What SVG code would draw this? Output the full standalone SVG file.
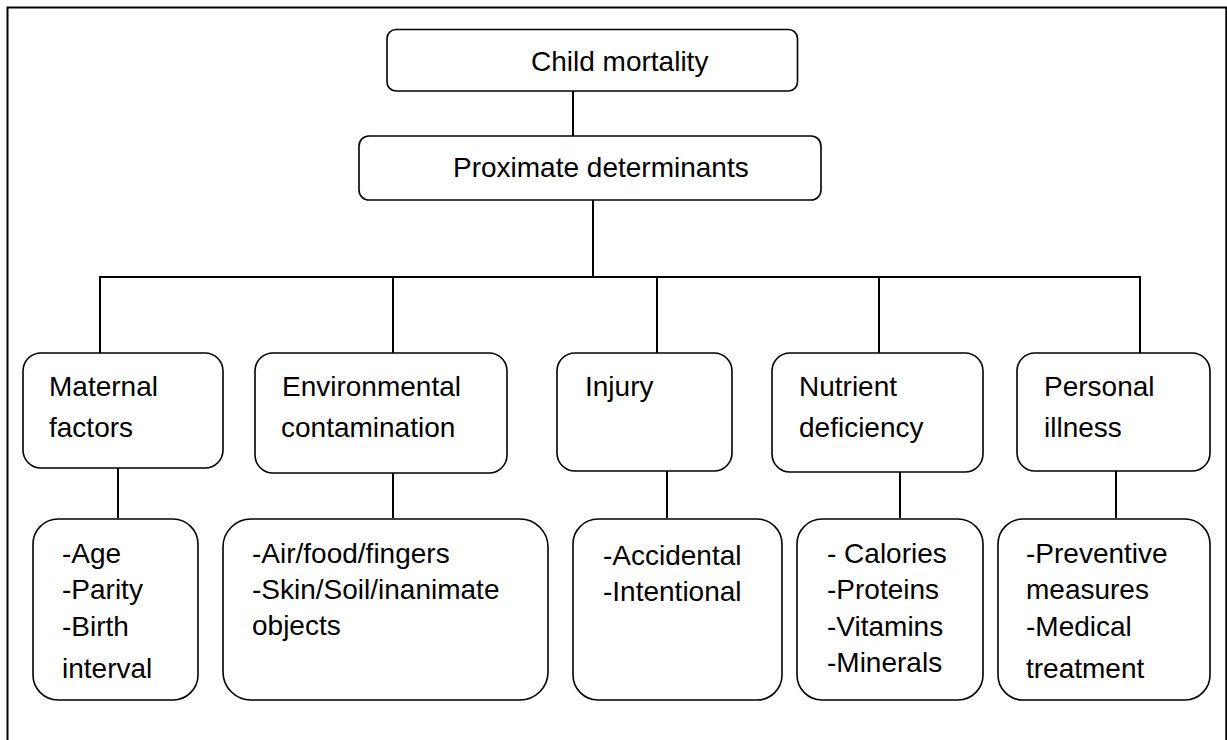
<svg xmlns="http://www.w3.org/2000/svg" width="1227" height="740" viewBox="0 0 1227 740">
<style>
.box{fill:#fff;stroke:#000;stroke-width:1.6}
.t{font-family:"Liberation Sans",Arial,sans-serif;font-size:28px;fill:#000}
.c{stroke:#000;stroke-width:2;fill:none}
</style>
<rect width="1227" height="740" fill="#fff"/>
<path d="M7.5,750 V7.5 H1226.3 V750" fill="none" stroke="#000" stroke-width="2"/>
<g id="connectors">
<line class="c" x1="573" y1="91" x2="573" y2="136" stroke-width="1.6"/>
<line class="c" x1="593" y1="200" x2="593" y2="277" stroke-width="2.6"/>
<polyline class="c" points="100,353 100,277 1140,277 1140,353"/>
<line class="c" x1="393" y1="277" x2="393" y2="353"/>
<line class="c" x1="657" y1="277" x2="657" y2="353"/>
<line class="c" x1="879" y1="277" x2="879" y2="353"/>
<line class="c" x1="118" y1="468" x2="118" y2="518"/>
<line class="c" x1="393" y1="473" x2="393" y2="518"/>
<line class="c" x1="667" y1="471" x2="667" y2="518"/>
<line class="c" x1="900" y1="472" x2="900" y2="518"/>
<line class="c" x1="1116" y1="471" x2="1116" y2="518"/>
</g>
<g id="child-mortality">
<rect class="box" x="387" y="29.5" width="410.5" height="61.5" rx="9"/>
<text class="t" x="531" y="71">Child mortality</text>
</g>
<g id="proximate">
<rect class="box" x="359" y="136" width="462" height="64" rx="10"/>
<text class="t" x="453" y="177">Proximate determinants</text>
</g>
<g id="maternal">
<rect class="box" x="23" y="353" width="200" height="115" rx="18"/>
<text class="t" x="49" y="396">Maternal</text>
<text class="t" x="49" y="437">factors</text>
</g>
<g id="environmental">
<rect class="box" x="255" y="353" width="252" height="120" rx="18"/>
<text class="t" x="282" y="396">Environmental</text>
<text class="t" x="281" y="437">contamination</text>
</g>
<g id="injury">
<rect class="box" x="557" y="353" width="175" height="118" rx="18"/>
<text class="t" x="585" y="396">Injury</text>
</g>
<g id="nutrient">
<rect class="box" x="772" y="353" width="211" height="119" rx="18"/>
<text class="t" x="799" y="396">Nutrient</text>
<text class="t" x="799" y="437">deficiency</text>
</g>
<g id="personal">
<rect class="box" x="1017" y="353" width="193" height="118" rx="18"/>
<text class="t" x="1044" y="396">Personal</text>
<text class="t" x="1044" y="437">illness</text>
</g>
<g id="maternal-sub">
<rect class="box" x="33" y="519" width="165" height="181" rx="25"/>
<text class="t" x="62" y="563">-Age</text>
<text class="t" x="62" y="599">-Parity</text>
<text class="t" x="62" y="636">-Birth</text>
<text class="t" x="62" y="678">interval</text>
</g>
<g id="environmental-sub">
<rect class="box" x="223" y="519" width="325" height="181" rx="28"/>
<text class="t" x="252" y="563">-Air/food/fingers</text>
<text class="t" x="252" y="599">-Skin/Soil/inanimate</text>
<text class="t" x="252" y="635">objects</text>
</g>
<g id="injury-sub">
<rect class="box" x="573" y="519" width="209" height="181" rx="25"/>
<text class="t" x="603" y="565">-Accidental</text>
<text class="t" x="603" y="601">-Intentional</text>
</g>
<g id="nutrient-sub">
<rect class="box" x="797" y="519" width="186" height="181" rx="25"/>
<text class="t" x="827" y="563">- Calories</text>
<text class="t" x="827" y="599">-Proteins</text>
<text class="t" x="827" y="636">-Vitamins</text>
<text class="t" x="827" y="672">-Minerals</text>
</g>
<g id="personal-sub">
<rect class="box" x="998" y="519" width="212" height="181" rx="25"/>
<text class="t" x="1026" y="563">-Preventive</text>
<text class="t" x="1026" y="599">measures</text>
<text class="t" x="1026" y="636">-Medical</text>
<text class="t" x="1026" y="678">treatment</text>
</g>
</svg>
